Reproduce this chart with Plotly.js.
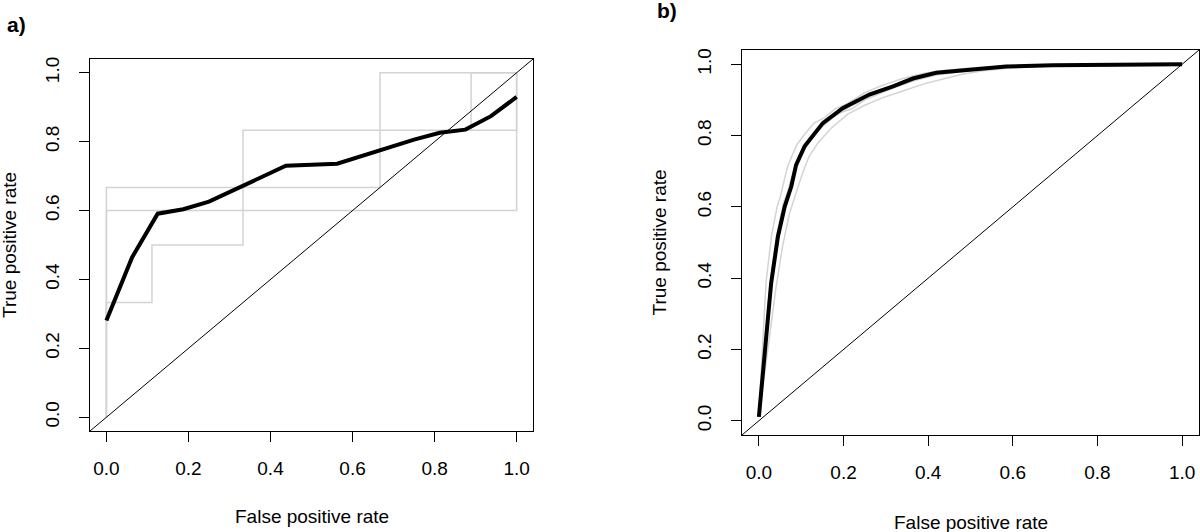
<!DOCTYPE html>
<html>
<head>
<meta charset="utf-8">
<script src="https://cdn.plot.ly/plotly-3.0.1.min.js"></script>
<style>html,body{margin:0;padding:0;background:#fff;}#chart{width:1200px;height:532px;}</style>
</head>
<body>
<div id="chart"></div>
<script>
// ---- Panel a: individual ROC curves (grey) ----
const aC1x = [0, 0, 0.667, 0.667, 1];
const aC1y = [0, 0.667, 0.667, 1, 1];
const aC2x = [0, 0, 1, 1];
const aC2y = [0, 0.6, 0.6, 1];
const aC3x = [0, 0, 0.111, 0.111, 0.333, 0.333, 0.889, 0.889, 1];
const aC3y = [0, 0.333, 0.333, 0.5, 0.5, 0.833, 0.833, 1, 1];
const aC4x = [0.889, 1, 1];
const aC4y = [0.833, 0.833, 1];
// ---- Panel a: averaged ROC curve (black) ----
const aAvgX = [0, 0.0625, 0.125, 0.1875, 0.25, 0.4375, 0.5625, 0.75, 0.8125, 0.875, 0.9375, 1];
const aAvgY = [0.281, 0.464, 0.591, 0.604, 0.626, 0.730, 0.736, 0.806, 0.826, 0.835, 0.874, 0.930];

// ---- Panel b: individual ROC curves (grey) ----
const bG1x = [0, 0.017, 0.03, 0.043, 0.051, 0.059, 0.067, 0.077, 0.09, 0.106, 0.13, 0.155, 0.18, 0.21, 0.25, 0.29, 0.34, 0.39, 0.44, 0.51, 0.6, 0.75, 1];
const bG1y = [0.015, 0.39, 0.52, 0.6, 0.63, 0.67, 0.71, 0.74, 0.775, 0.80, 0.835, 0.85, 0.875, 0.89, 0.92, 0.94, 0.96, 0.975, 0.983, 0.99, 0.995, 0.999, 1];
const bG2x = [0, 0.04, 0.056, 0.072, 0.088, 0.102, 0.118, 0.14, 0.17, 0.21, 0.25, 0.29, 0.34, 0.39, 0.44, 0.48, 0.53, 0.6, 0.7, 0.85, 1];
const bG2y = [0.01, 0.37, 0.49, 0.58, 0.64, 0.69, 0.74, 0.78, 0.82, 0.86, 0.885, 0.905, 0.925, 0.945, 0.96, 0.972, 0.982, 0.99, 0.996, 0.999, 1];
const bG3x = [0, 0.028, 0.04, 0.055, 0.065, 0.072, 0.08, 0.09, 0.1, 0.115, 0.13, 0.15, 0.175, 0.2, 0.215, 0.24, 0.27, 0.3, 0.34, 0.39, 0.44, 0.5, 0.58, 0.7, 1];
const bG3y = [0.012, 0.4, 0.5, 0.59, 0.62, 0.66, 0.69, 0.72, 0.74, 0.775, 0.8, 0.825, 0.85, 0.87, 0.882, 0.895, 0.915, 0.93, 0.945, 0.965, 0.976, 0.985, 0.993, 0.997, 1];
const bG4x = [0, 0.025, 0.042, 0.058, 0.07, 0.082, 0.096, 0.12, 0.14, 0.17, 0.185, 0.22, 0.25, 0.29, 0.32, 0.37, 0.42, 0.48, 0.55, 0.65, 0.8, 1];
const bG4y = [0.01, 0.37, 0.52, 0.61, 0.65, 0.7, 0.745, 0.79, 0.815, 0.845, 0.862, 0.875, 0.9, 0.92, 0.935, 0.955, 0.97, 0.98, 0.99, 0.995, 0.999, 1];
// ---- Panel b: averaged ROC curve (black) ----
const bAvgX = [0, 0.029, 0.045, 0.061, 0.0765, 0.088, 0.108, 0.151, 0.198, 0.261, 0.317, 0.364, 0.419, 0.498, 0.584, 0.694, 0.852, 1];
const bAvgY = [0.011, 0.386, 0.517, 0.601, 0.657, 0.718, 0.770, 0.835, 0.877, 0.915, 0.938, 0.960, 0.976, 0.985, 0.994, 0.997, 0.999, 1];

const tickVals = [0, 0.2, 0.4, 0.6, 0.8, 1];
const tickText = ["0.0", "0.2", "0.4", "0.6", "0.8", "1.0"];
const axisRange = [-0.04, 1.04];
const xTitle = "False positive rate";
const yTitle = "True positive rate";

const grey = "#d3d3d3";
const font = "Liberation Sans, Arial, Helvetica, sans-serif";

function g(x, y, ax) {
  return {x: x, y: y, xaxis: ax[0], yaxis: ax[1], mode: "lines", line: {color: grey, width: 1.5}, hoverinfo: "skip", showlegend: false};
}
function k(x, y, ax) {
  return {x: x, y: y, xaxis: ax[0], yaxis: ax[1], mode: "lines", line: {color: "#000", width: 4}, showlegend: false};
}
const A = ["x", "y"], B = ["x2", "y2"];
const data = [
  g(aC1x, aC1y, A), g(aC2x, aC2y, A), g(aC3x, aC3y, A), g(aC4x, aC4y, A), k(aAvgX, aAvgY, A),
  g(bG1x, bG1y, B), g(bG2x, bG2y, B), g(bG3x, bG3y, B), g(bG4x, bG4y, B), k(bAvgX, bAvgY, B)
];

function xax(domain, anchor) {
  return {domain: domain, anchor: anchor, range: axisRange, tickvals: tickVals, ticktext: tickText,
    ticks: "outside", ticklen: 10, tickcolor: "#000", tickwidth: 1, showline: true, mirror: true,
    linecolor: "#000", linewidth: 1, showgrid: false, zeroline: false, ticklabelstandoff: 10,
    tickfont: {size: 19, color: "#000", family: font}};
}
function yax(domain, anchor) {
  return {domain: domain, anchor: anchor, range: axisRange, tickvals: tickVals, ticktext: tickText,
    ticks: "outside", ticklen: 10, tickcolor: "#000", tickwidth: 1, showline: true, mirror: true,
    linecolor: "#000", linewidth: 1, showgrid: false, zeroline: false, tickangle: -90, ticklabelstandoff: 12,
    tickfont: {size: 19, color: "#000", family: font}};
}
function ann(text, px, py, angle, bold) {
  return {text: text, xref: "paper", yref: "paper", x: px / 1200, y: 1 - py / 532, xanchor: "center", yanchor: "middle",
    textangle: angle, showarrow: false, font: {size: bold ? 21 : 19, color: "#000", family: font}};
}

const layout = {
  width: 1200, height: 532,
  margin: {l: 0, r: 0, t: 0, b: 0},
  paper_bgcolor: "#fff", plot_bgcolor: "#fff",
  font: {family: font, color: "#000"},
  xaxis: xax([0.075, 0.4442], "y"),
  yaxis: yax([0.1898, 0.8891], "x"),
  xaxis2: xax([0.6183, 0.9992], "y2"),
  yaxis2: yax([0.1823, 0.906], "x2"),
  shapes: [
    {type: "line", xref: "x domain", yref: "y domain", x0: 0, y0: 0, x1: 1, y1: 1, line: {color: "#000", width: 1}},
    {type: "line", xref: "x2 domain", yref: "y2 domain", x0: 0, y0: 0, x1: 1, y1: 1, line: {color: "#000", width: 1}}
  ],
  annotations: [
    ann(xTitle, 311.5, 516, 0, false),
    ann(yTitle, 9, 245, -90, false),
    ann(xTitle, 970.5, 522, 0, false),
    ann(yTitle, 659, 242.5, -90, false),
    ann("<b>a)</b>", 16, 25, 0, true),
    ann("<b>b)</b>", 667, 11, 0, true)
  ]
};

Plotly.newPlot("chart", data, layout, {displayModeBar: false, staticPlot: true});
</script>
</body>
</html>
